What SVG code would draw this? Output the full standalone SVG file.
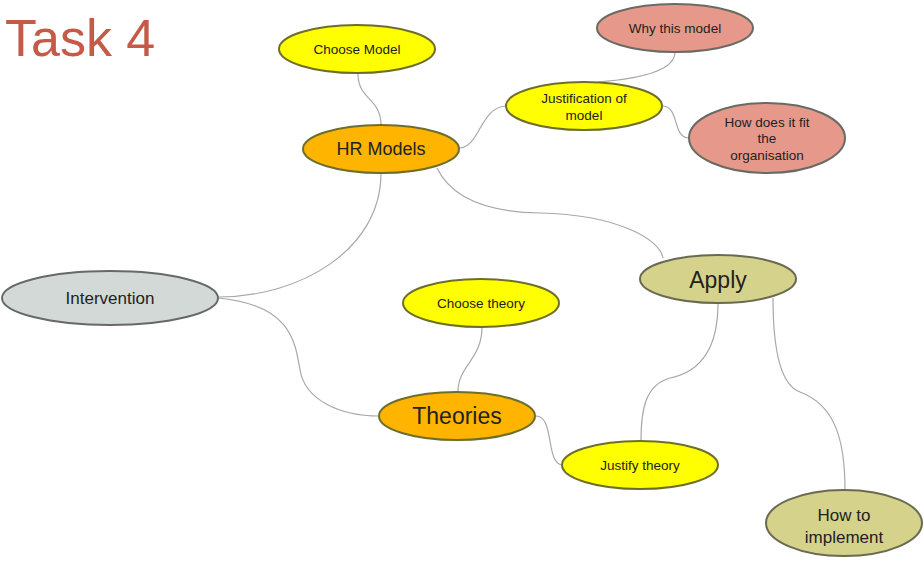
<svg xmlns="http://www.w3.org/2000/svg" width="924" height="563" viewBox="0 0 924 563">
<style>
text{font-family:"Liberation Sans",Arial,sans-serif;fill:#222;text-anchor:middle;dominant-baseline:central}
.yel{fill:#ffff00;stroke:#6e6e2c;stroke-width:2}
.org{fill:#ffb400;stroke:#6e6e2c;stroke-width:2}
.sal{fill:#e6998a;stroke:#6a6a64;stroke-width:2}
.gry{fill:#d3d9d6;stroke:#666966;stroke-width:2}
.kha{fill:#d5d28c;stroke:#6a6a50;stroke-width:2}
.c path{fill:none;stroke:#a8a8a8;stroke-width:1.2}
.s{font-size:13.5px}
</style>
<rect width="924" height="563" fill="#ffffff"/>
<text x="5" y="38" style="font-size:52px;fill:#c55a48;text-anchor:start">Task 4</text>
<g class="c" id="connectors">
<path d="M358,74 C358,100 381,98 381,125"/>
<path d="M459,148 C480,148 480,106 507,106"/>
<path d="M598,82 C650,78 675,68 675,52"/>
<path d="M662,106 C680,106 672,138 689,138"/>
<path d="M381,173 C381,250 300,297 218,297"/>
<path d="M437,168 C450,195 480,212 540,213 C620,215 660,240 663,258"/>
<path d="M218,298 C290,305 295,340 300,370 C305,400 340,416 379,416"/>
<path d="M482,327 C482,360 458,365 458,392"/>
<path d="M536,416 C555,416 545,465 563,465"/>
<path d="M718,303 C718,350 700,372 670,378 C645,385 641,410 641,441"/>
<path d="M773,298 C773,350 780,385 800,392 C835,405 845,440 845,490"/>
</g>
<g id="choose-model"><ellipse class="yel" cx="357" cy="49" rx="78" ry="24"/><text class="s" x="357" y="49">Choose Model</text></g>
<g id="hr-models"><ellipse class="org" cx="381" cy="149" rx="78" ry="24"/><text x="381" y="149" style="font-size:18px">HR Models</text></g>
<g id="why-this-model"><ellipse class="sal" cx="675" cy="28" rx="78" ry="24"/><text class="s" x="675" y="28">Why this model</text></g>
<g id="justification"><ellipse class="yel" cx="584" cy="106" rx="78" ry="24"/><text class="s" x="584" y="98">Justification of</text><text class="s" x="584" y="115">model</text></g>
<g id="how-fit"><ellipse class="sal" cx="767" cy="138" rx="78" ry="35"/><text class="s" x="767" y="122">How does it fit</text><text class="s" x="767" y="138">the</text><text class="s" x="767" y="155">organisation</text></g>
<g id="intervention"><ellipse class="gry" cx="110" cy="298" rx="108" ry="27"/><text x="110" y="298" style="font-size:17px">Intervention</text></g>
<g id="choose-theory"><ellipse class="yel" cx="481" cy="303" rx="78" ry="24"/><text class="s" x="481" y="303">Choose theory</text></g>
<g id="apply"><ellipse class="kha" cx="718" cy="279" rx="78" ry="24"/><text x="718" y="280" style="font-size:23px">Apply</text></g>
<g id="theories"><ellipse class="org" cx="457" cy="416" rx="78" ry="24"/><text x="457" y="416" style="font-size:23px">Theories</text></g>
<g id="justify-theory"><ellipse class="yel" cx="640" cy="465" rx="78" ry="24"/><text class="s" x="640" y="465">Justify theory</text></g>
<g id="how-implement"><ellipse class="kha" cx="844" cy="523" rx="78" ry="33"/><text x="844" y="515" style="font-size:17px">How to</text><text x="844" y="537" style="font-size:17px">implement</text></g>
</svg>
